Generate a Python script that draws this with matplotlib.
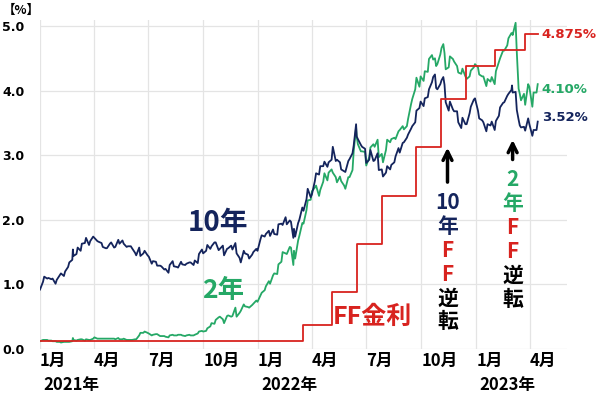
import matplotlib.pyplot as plt
import matplotlib.transforms as mtransforms
import numpy as np
import pandas as pd

plt.rcParams['font.family'] = ['Noto Sans CJK JP', 'DejaVu Sans']

NAVY = "#14245c"
GREEN = "#25a866"
RED = "#d8231f"

# Friday closes, 2021-01-01 .. 2023-04-14
friday_start = "2021-01-01"
ust10_fri = [
  # 2021
  0.92, 1.12, 1.10, 1.09, 1.07, 1.17, 1.20, 1.34, 1.44, 1.57, 1.63, 1.72, 1.67,
  1.72, 1.66, 1.58, 1.56, 1.65, 1.58, 1.63, 1.63, 1.59, 1.56, 1.45, 1.44, 1.52,
  1.43, 1.36, 1.29, 1.28, 1.24, 1.30, 1.28, 1.26, 1.31, 1.32, 1.34, 1.37, 1.47,
  1.48, 1.61, 1.59, 1.65, 1.55, 1.45, 1.56, 1.54, 1.48, 1.34, 1.48, 1.40, 1.50, 1.52,
  # 2022
  1.76, 1.78, 1.75, 1.78, 1.93, 1.92, 1.93, 1.97, 1.74, 2.00, 2.14, 2.48, 2.39,
  2.72, 2.83, 2.90, 2.89, 3.13, 2.93, 2.78, 2.74, 2.94, 3.15, 3.25, 3.13, 2.88,
  3.08, 2.92, 2.77, 2.67, 2.83, 2.85, 2.98, 3.04, 3.20, 3.32, 3.45, 3.69, 3.83,
  3.88, 4.02, 4.21, 4.02, 4.16, 3.82, 3.83, 3.68, 3.51, 3.58, 3.48, 3.75, 3.88,
  # 2023
  3.57, 3.51, 3.48, 3.52, 3.53, 3.74, 3.82, 3.95, 3.97, 3.70, 3.43, 3.38, 3.48,
  3.39, 3.52,
]
ust2_fri = [
  # 2021
  0.12, 0.14, 0.13, 0.12, 0.11, 0.10, 0.11, 0.11, 0.14, 0.14, 0.15, 0.15, 0.14,
  0.18, 0.16, 0.16, 0.16, 0.16, 0.15, 0.15, 0.16, 0.14, 0.14, 0.15, 0.25, 0.27,
  0.24, 0.22, 0.23, 0.20, 0.19, 0.21, 0.21, 0.22, 0.21, 0.21, 0.21, 0.22, 0.27,
  0.27, 0.32, 0.40, 0.45, 0.50, 0.40, 0.52, 0.51, 0.50, 0.59, 0.66, 0.64, 0.70, 0.73,
  # 2022
  0.87, 0.97, 1.01, 1.17, 1.31, 1.50, 1.47, 1.57, 1.40, 1.75, 1.94, 2.30, 2.44,
  2.53, 2.46, 2.72, 2.73, 2.73, 2.58, 2.60, 2.48, 2.66, 3.06, 3.17, 3.06, 2.84,
  3.12, 3.13, 2.97, 2.89, 3.24, 3.25, 3.25, 3.39, 3.40, 3.56, 3.87, 4.20, 4.22,
  4.30, 4.49, 4.48, 4.41, 4.66, 4.33, 4.53, 4.45, 4.28, 4.34, 4.18, 4.31, 4.41,
  # 2023
  4.25, 4.22, 4.18, 4.21, 4.30, 4.50, 4.62, 4.81, 4.86, 4.59, 3.85, 3.78, 4.06,
  3.97, 4.10,
]

# Wednesday readings, 2021-01-06 .. 2023-04-12
wednesday_start = "2021-01-06"
ust10_wed = [
  # 2021
  1.04, 1.09, 1.08, 1.01, 1.14, 1.13, 1.27, 1.38, 1.47, 1.52, 1.64, 1.61, 1.74,
  1.67, 1.64, 1.56, 1.63, 1.57, 1.69, 1.68, 1.58, 1.59, 1.49, 1.57, 1.48, 1.45,
  1.32, 1.35, 1.29, 1.23, 1.18, 1.36, 1.27, 1.35, 1.30, 1.34, 1.30, 1.33, 1.54,
  1.52, 1.55, 1.65, 1.53, 1.60, 1.55, 1.60, 1.64, 1.41, 1.52, 1.46, 1.46, 1.55,
  # 2022
  1.70, 1.74, 1.83, 1.85, 1.77, 1.94, 2.04, 1.99, 1.86, 1.95, 2.19, 2.32, 2.35,
  2.60, 2.70, 2.83, 2.82, 2.93, 2.91, 2.89, 2.75, 2.91, 3.03, 3.29, 3.16, 3.10,
  2.93, 2.91, 3.03, 2.78, 2.73, 2.78, 2.89, 3.11, 3.19, 3.27, 3.41, 3.51, 3.73,
  3.76, 3.90, 4.13, 4.04, 4.10, 4.09, 3.69, 3.71, 3.68, 3.42, 3.48, 3.65, 3.86,
  # 2023
  3.69, 3.54, 3.37, 3.46, 3.39, 3.61, 3.81, 3.92, 4.01, 3.98, 3.46, 3.44, 3.57,
  3.30, 3.39,
]
ust2_wed = [
  # 2021
  0.14, 0.14, 0.13, 0.12, 0.11, 0.11, 0.11, 0.12, 0.13, 0.15, 0.13, 0.14, 0.16,
  0.16, 0.16, 0.16, 0.16, 0.16, 0.17, 0.15, 0.14, 0.14, 0.15, 0.21, 0.25, 0.25,
  0.21, 0.23, 0.20, 0.20, 0.18, 0.22, 0.21, 0.22, 0.20, 0.22, 0.21, 0.24, 0.28,
  0.28, 0.35, 0.39, 0.49, 0.46, 0.51, 0.50, 0.64, 0.56, 0.69, 0.65, 0.68, 0.75,
  # 2022
  0.83, 0.91, 1.05, 1.14, 1.16, 1.35, 1.48, 1.58, 1.52, 1.68, 1.95, 2.15, 2.31,
  2.50, 2.37, 2.59, 2.61, 2.78, 2.66, 2.67, 2.53, 2.66, 2.77, 3.29, 3.06, 3.05,
  2.97, 3.17, 3.24, 3.02, 3.08, 3.20, 3.27, 3.37, 3.45, 3.45, 3.79, 4.02, 4.06,
  4.15, 4.29, 4.55, 4.38, 4.56, 4.58, 4.36, 4.49, 4.38, 4.26, 4.22, 4.22, 4.36,
  # 2023
  4.36, 4.22, 4.07, 4.14, 4.10, 4.44, 4.62, 4.70, 4.89, 5.05, 3.95, 3.95, 4.10,
  3.75, 3.97,
]

# A few intraweek highs/lows that the Wed/Fri readings miss
extra_dates = ["2021-02-25", "2022-03-01", "2022-06-14", "2022-10-24", "2022-11-07",
               "2023-03-02", "2023-03-13"]
ust10_extra = [1.54, 1.72, 3.48, 4.25, 4.21, 4.08, 3.55]
ust2_extra = [0.17, 1.30, 3.43, 4.50, 4.72, 4.89, 4.03]

# Fed funds target, midpoint of the range
ff_dates = ["2021-01-01", "2022-03-17", "2022-05-05", "2022-06-16", "2022-07-28",
            "2022-09-22", "2022-11-03", "2022-12-15", "2023-02-02", "2023-03-23", "2023-04-14"]
ff_rates = [0.125, 0.375, 0.875, 1.625, 2.375, 3.125, 3.875, 4.375, 4.625, 4.875, 4.875]

fri = pd.DataFrame({"date": pd.date_range(friday_start, periods=len(ust10_fri), freq="W-FRI"),
                    "y10": ust10_fri, "y2": ust2_fri})
wed = pd.DataFrame({"date": pd.date_range(wednesday_start, periods=len(ust10_wed), freq="W-WED"),
                    "y10": ust10_wed, "y2": ust2_wed})
extras = pd.DataFrame({"date": pd.to_datetime(extra_dates), "y10": ust10_extra, "y2": ust2_extra})
yields = pd.concat([fri, wed, extras]).sort_values("date")

fig = plt.figure(figsize=(6.0, 3.95), dpi=100)
ax = fig.add_axes([0.0667, 0.1165, 0.8783, 0.834])

ax.plot(yields["date"], yields["y10"], color=NAVY, lw=1.3, zorder=3)
ax.plot(yields["date"], yields["y2"], color=GREEN, lw=1.3, zorder=2)
ax.plot(pd.to_datetime(ff_dates), ff_rates, color=RED, lw=1.3, drawstyle="steps-post", zorder=4)

ax.set_xlim(pd.Timestamp("2021-01-01"), pd.Timestamp("2023-06-02"))
ax.set_ylim(0, 5.1)

# nudge the left-aligned month/year labels a few pixels off the gridline
nudge = mtransforms.ScaledTranslation(3 / 100, 0, fig.dpi_scale_trans)

quarters = pd.date_range("2021-01-01", "2023-04-01", freq="QS")
ax.set_xticks(quarters)
ax.set_xticklabels([f"{d.month}月" for d in quarters], fontsize=12, fontweight="bold", ha="left")
for lbl in ax.get_xticklabels():
  lbl.set_transform(lbl.get_transform() + nudge)
ax.set_yticks(np.arange(0, 6))
ax.set_yticklabels([f"{v:.1f}" for v in range(6)], fontsize=9, fontweight="bold", family="DejaVu Sans")
ax.tick_params(axis="x", length=0, pad=2)
ax.tick_params(axis="y", length=0, pad=11)
ax.grid(True, color="#e4e4e4", lw=0.9)
ax.set_axisbelow(True)
for s in ax.spines.values():
  s.set_visible(False)

for year in (2021, 2022, 2023):
  ax.text(pd.Timestamp(f"{year}-01-01"), -0.11, f"{year}年", transform=ax.get_xaxis_transform() + nudge,
          ha="left", va="center", fontsize=12, fontweight="bold")

fig.text(0.004, 0.974, "【%】", ha="left", va="center", fontsize=9, fontweight="bold")

# series labels
ax.text(pd.Timestamp("2021-10-26"), 1.95, "10年", color=NAVY, fontsize=20, fontweight="bold", ha="center", va="center")
ax.text(pd.Timestamp("2021-11-03"), 0.90, "2年", color=GREEN, fontsize=19, fontweight="bold", ha="center", va="center")
ax.text(pd.Timestamp("2022-05-06"), 0.50, "FF金利", color=RED, fontsize=18, fontweight="bold", ha="left", va="center")

# end values
last = pd.Timestamp("2023-04-21")
ax.text(last, 4.875, "4.875%", color=RED, fontsize=9.5, fontweight="bold", va="center", family="DejaVu Sans")
ax.text(last, 4.01, "4.10%", color=GREEN, fontsize=9.5, fontweight="bold", va="center", family="DejaVu Sans")
ax.text(last, 3.59, "3.52%", color=NAVY, fontsize=9.5, fontweight="bold", va="center", family="DejaVu Sans")

# inversion callouts: arrow plus stacked characters
def callout(x, arrow_lo, arrow_hi, y_top, step, chars):
  ax.annotate("", xy=(x, arrow_hi), xytext=(x, arrow_lo),
              arrowprops=dict(arrowstyle="->", color="black", lw=2.5, mutation_scale=16))
  for i, (ch, col) in enumerate(chars):
    ax.text(x, y_top - i * step, ch, color=col, fontsize=15, fontweight="bold", ha="center", va="center")

callout(pd.Timestamp("2022-11-14"), 2.54, 3.16, 2.26, 0.368,
        [("10", NAVY), ("年", NAVY), ("F", RED), ("F", RED), ("逆", "black"), ("転", "black")])
callout(pd.Timestamp("2023-03-03"), 2.89, 3.28, 2.62, 0.37,
        [("2", GREEN), ("年", GREEN), ("F", RED), ("F", RED), ("逆", "black"), ("転", "black")])

fig.savefig("out.png", dpi=100)
